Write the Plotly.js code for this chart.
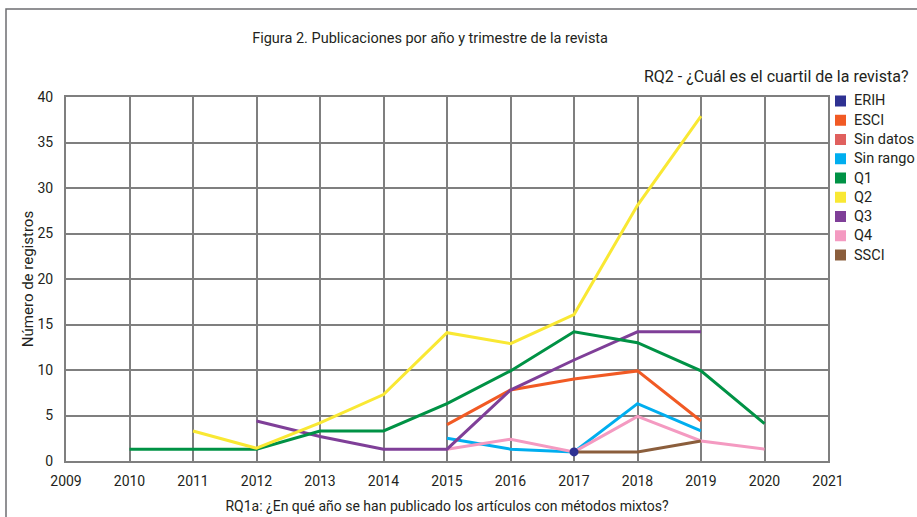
<!DOCTYPE html>
<html>
<head>
<meta charset="utf-8">
<script src="https://cdn.plot.ly/plotly-3.0.1.min.js"></script>
<style>
html,body{margin:0;padding:0;background:#fff;}
#chart{width:917px;height:517px;}
</style>
</head>
<body>
<div id="chart"></div>
<script>
// Data
var years = [2009, 2010, 2011, 2012, 2013, 2014, 2015, 2016, 2017, 2018, 2019, 2020, 2021];
var erihX = [2017];
var erihY = [1.0];
var esciX = [2015, 2016, 2017, 2018, 2019];
var esciY = [4.0, 7.8, 9.0, 9.9, 4.4];
var sinDatosX = [];
var sinDatosY = [];
var sinRangoX = [2015, 2016, 2017, 2018, 2019];
var sinRangoY = [2.5, 1.3, 1.0, 6.3, 3.3];
var q1X = [2010, 2011, 2012, 2013, 2014, 2015, 2016, 2017, 2018, 2019, 2020];
var q1Y = [1.3, 1.3, 1.3, 3.3, 3.3, 6.3, 9.9, 14.2, 13.0, 9.9, 4.1];
var q2X = [2011, 2012, 2013, 2014, 2015, 2016, 2017, 2018, 2019];
var q2Y = [3.3, 1.4, 4.2, 7.3, 14.1, 12.9, 16.1, 28.1, 37.9];
var q3X = [2012, 2013, 2014, 2015, 2016, 2017, 2018, 2019];
var q3Y = [4.4, 2.7, 1.3, 1.3, 7.8, 11.1, 14.2, 14.2];
var q4X = [2015, 2016, 2017, 2018, 2019, 2020];
var q4Y = [1.3, 2.4, 1.0, 4.9, 2.2, 1.3];
var ssciX = [2017, 2018, 2019];
var ssciY = [1.0, 1.0, 2.2];
var yTicks = [0, 5, 10, 15, 20, 25, 30, 35, 40];

var seriesNames = ['ERIH', 'ESCI', 'Sin datos', 'Sin rango', 'Q1', 'Q2', 'Q3', 'Q4', 'SSCI'];
var seriesColors = ['#2e3192', '#f15a24', '#e0605e', '#00aeef', '#009245', '#f9e833', '#7f3f98', '#f49ac1', '#8b5e3c'];

var font = 'Roboto, "DejaVu Sans", sans-serif';
var W = 917, H = 517;
var M = {l: 66, r: 89, t: 97, b: 56};
var pw = W - M.l - M.r, ph = H - M.t - M.b;
function px2x(p){ return (p - M.l) / pw; }
function py2y(p){ return (H - M.b - p) / ph; }

var traces = [];
var lineData = [
  [sinRangoX, sinRangoY, 3],
  [q4X, q4Y, 7],
  [ssciX, ssciY, 8],
  [esciX, esciY, 1],
  [q3X, q3Y, 6],
  [q1X, q1Y, 4],
  [q2X, q2Y, 5],
  [sinDatosX, sinDatosY, 2]
];
lineData.forEach(function(d){
  traces.push({
    x: d[0], y: d[1], type: 'scatter', mode: 'lines',
    line: {color: seriesColors[d[2]], width: 3},
    showlegend: false, name: seriesNames[d[2]]
  });
});
traces.push({
  x: erihX, y: erihY, type: 'scatter', mode: 'markers',
  marker: {color: seriesColors[0], size: 9},
  showlegend: false, name: seriesNames[0]
});

var annotations = [{
  text: 'RQ2 - ¿Cuál es el cuartil de la revista?',
  xref: 'paper', yref: 'paper', x: px2x(910), xanchor: 'right', y: py2y(77), yanchor: 'middle',
  showarrow: false, font: {family: font, size: 16, color: '#231f20'}
}];
var shapes = [{
  type: 'rect', xref: 'paper', yref: 'paper',
  x0: px2x(6), x1: px2x(1000), y0: py2y(600), y1: py2y(9),
  line: {color: '#6d6e71', width: 1.5}, fillcolor: 'rgba(0,0,0,0)', layer: 'below'
}];
// custom legend (square swatches, tight spacing like the reference)
var legTop = 101, legStep = 19.25;
seriesNames.forEach(function(n, i){
  var cy = legTop + i * legStep;
  shapes.push({
    type: 'rect', xref: 'paper', yref: 'paper',
    x0: px2x(835), x1: px2x(846), y0: py2y(cy + 5.5), y1: py2y(cy - 5.5),
    line: {width: 0}, fillcolor: seriesColors[i]
  });
  annotations.push({
    text: n, xref: 'paper', yref: 'paper', x: px2x(852), xanchor: 'left',
    y: py2y(cy), yanchor: 'middle', showarrow: false,
    font: {family: font, size: 14.5, color: '#231f20'}
  });
});

var layout = {
  width: W, height: H,
  margin: {l: M.l, r: M.r, t: M.t, b: M.b, autoexpand: false},
  paper_bgcolor: '#ffffff', plot_bgcolor: '#ffffff',
  font: {family: font, size: 14, color: '#231f20'},
  showlegend: false,
  title: {
    text: 'Figura 2. Publicaciones por año y trimestre de la revista',
    font: {family: font, size: 14.5, color: '#231f20'},
    x: 0.469, xanchor: 'center', xref: 'container',
    y: 0.926, yanchor: 'middle', yref: 'container'
  },
  xaxis: {
    range: [2009, 2021], tickvals: years, ticktext: years.map(String),
    showgrid: true, gridcolor: '#7f7f7f', gridwidth: 2,
    showline: true, linecolor: '#7f7f7f', linewidth: 2, mirror: true,
    zeroline: false, ticks: '', ticklabelstandoff: 6,
    tickfont: {family: font, size: 14, color: '#231f20'},
    title: {text: 'RQ1a: ¿En qué año se han publicado los artículos con métodos mixtos?',
            font: {family: font, size: 14, color: '#231f20'}, standoff: 13}
  },
  yaxis: {
    range: [0, 40], tickvals: yTicks,
    showgrid: true, gridcolor: '#7f7f7f', gridwidth: 2,
    showline: true, linecolor: '#7f7f7f', linewidth: 2, mirror: true,
    zeroline: false, ticks: '', ticklabelstandoff: 8,
    tickfont: {family: font, size: 14, color: '#231f20'},
    title: {text: 'Número de registros', font: {family: font, size: 15, color: '#231f20'}, standoff: 0}
  },
  annotations: annotations,
  shapes: shapes
};

Plotly.newPlot('chart', traces, layout, {displayModeBar: false, staticPlot: true});
</script>
</body>
</html>
